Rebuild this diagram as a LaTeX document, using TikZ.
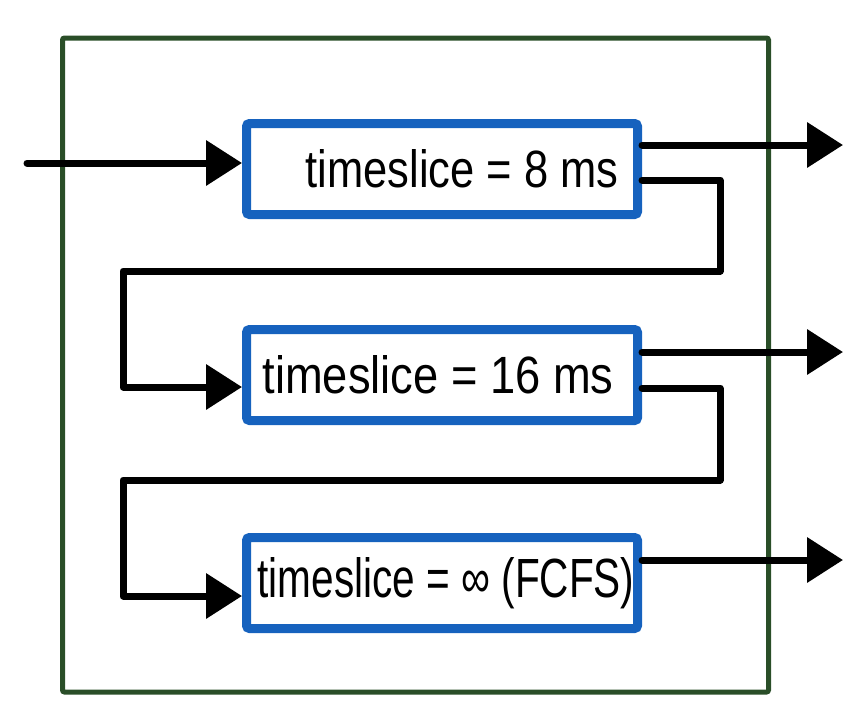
\documentclass[tikz,border=0pt]{standalone}
\usepackage{fontspec}
\setmainfont{Liberation Sans}
\usetikzlibrary{arrows.meta}
\definecolor{queueblue}{RGB}{22,98,190}
\definecolor{framegreen}{RGB}{42,78,40}
\begin{document}
\begin{tikzpicture}[x=1pt,y=-1pt,
  queuebox/.style={draw=queueblue, line width=9pt, rounded corners=3pt,
    minimum width=391pt, minimum height=91pt, inner sep=0pt, fill=white},
  qlabel/.style={font=\fontsize{40}{44}\selectfont, inner sep=0pt},
  flow/.style={line width=7pt, line cap=round, line join=round,
    -{Triangle[length=36pt,width=44pt]}}]
  \useasboundingbox (0,0) rectangle (867,723);
  % system boundary
  \node[draw=framegreen, line width=5pt, rounded corners=2pt,
    minimum width=706pt, minimum height=654pt, inner sep=0pt]
    (frame) at (415.5,365) {};
  % the three queues
  \node[queuebox] (b1) at (442,169) {};
  \node[queuebox] (b2) at (442,375) {};
  \node[queuebox] (b3) at (442,583) {};
  \node[qlabel] (t1) at ([xshift=20pt]b1.center)
    {\resizebox{313pt}{38pt}{timeslice = 8 ms}};
  \node[qlabel] (t2) at ([xshift=-4pt]b2.center)
    {\resizebox{351pt}{38pt}{timeslice = 16 ms}};
  \node[qlabel] (t3) at ([xshift=4pt]b3.center)
    {\resizebox{377pt}{40pt}{timeslice = ∞ (FCFS)}};
  % entry and exits
  \coordinate (in) at (27,163);
  \coordinate (o1) at (843,145);
  \coordinate (o2) at (843,352);
  \coordinate (o3) at (843,560);
  \draw[flow] (in) -- (in -| b1.west);
  \draw[flow] (o1 -| b1.east) -- (o1);
  \draw[flow] (o2 -| b2.east) -- (o2);
  \draw[flow] (o3 -| b3.east) -- (o3);
  % demotion paths
  \coordinate (r1) at (720,271);
  \coordinate (l1) at (123,271);
  \coordinate (r2) at (720,480);
  \coordinate (l2) at (123,480);
  \draw[flow] ([yshift=-11pt]b1.east) -| (r1) -- (l1) |- ([yshift=-12pt]b2.west);
  \draw[flow] ([yshift=-13pt]b2.east) -| (r2) -- (l2) |- ([yshift=-13pt]b3.west);
\end{tikzpicture}
\end{document}
